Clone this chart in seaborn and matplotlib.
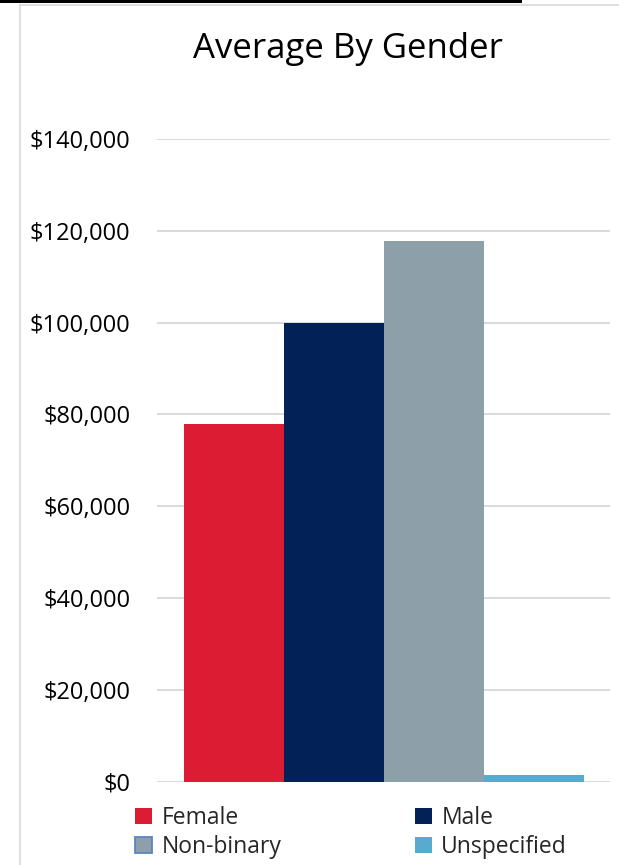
import matplotlib
matplotlib.use("Agg")
import matplotlib.pyplot as plt
from matplotlib.patches import Patch, Rectangle
from matplotlib.lines import Line2D
from matplotlib.ticker import FuncFormatter
import seaborn as sns
import pandas as pd

# Average salary per gender
genders = ["Female", "Male", "Non-binary", "Unspecified"]
averages = [77900, 99800, 117700, 1500]
colors = ["#DC1C32", "#012157", "#8DA0A9", "#58ABCE"]
y_ticks = [0, 20000, 40000, 60000, 80000, 100000, 120000, 140000]
title = "Average By Gender"

sns.set_theme(style="white")
plt.rcParams["font.family"] = ["Open Sans", "DejaVu Sans"]

W, H = 619, 865
fig = plt.figure(figsize=(W / 100, H / 100), dpi=100)

def fx(px):
    return px / W

def fy(py):
    return 1 - py / H

ax = fig.add_axes([fx(157), fy(781.5), fx(610) - fx(157), fy(139) - fy(781.5)])

df = pd.DataFrame({"group": ["all"] * len(genders), "gender": genders, "avg": averages})
sns.barplot(data=df, x="group", y="avg", hue="gender", hue_order=genders,
            palette=colors, saturation=1, width=0.8, legend=False, ax=ax,
            errorbar=None, linewidth=0)

ax.set_xlim(-0.453, 0.453)
ax.set_ylim(0, 140000)
ax.set_yticks(y_ticks)
ax.yaxis.set_major_formatter(FuncFormatter(lambda v, p: f"${v:,.0f}"))
ax.tick_params(axis="y", length=0, pad=19, labelsize=17, colors="#000000")
ax.set_xticks([])
ax.set_xlabel("")
ax.set_ylabel("")
ax.grid(axis="y", color="#d9d9d9", linewidth=1.4)
ax.set_axisbelow(True)
for s in ax.spines.values():
    s.set_visible(False)

fig.text(fx(348), fy(58), title, ha="center", va="baseline", fontsize=25, color="#000000")

# Legend in two columns
handles = [Patch(facecolor=c, edgecolor=c, linewidth=0) for c in colors]
handles[2] = Patch(facecolor=colors[2], edgecolor="#5A86C0", linewidth=1.3)
leg_kw = dict(frameon=False, fontsize=16.5, handlelength=0.75, handleheight=0.7,
              handletextpad=0.4, labelspacing=0.2, borderpad=0, borderaxespad=0,
              loc="upper left")
leg1 = fig.legend([handles[0], handles[2]], [genders[0], genders[2]],
                  bbox_to_anchor=(fx(135), fy(806)), **leg_kw)
leg2 = fig.legend([handles[1], handles[3]], [genders[1], genders[3]],
                  bbox_to_anchor=(fx(415), fy(806)), **leg_kw)

# Frame lines around the chart area
fig.add_artist(Rectangle((0, fy(3)), fx(522), 3 / H, transform=fig.transFigure,
                         facecolor="#000000", edgecolor="none"))
fig.add_artist(Line2D([fx(19.5), fx(19.5)], [fy(4.5), 0], transform=fig.transFigure,
                      color="#d9d9d9", linewidth=1.2))
fig.add_artist(Line2D([fx(19.5), 1], [fy(4.5), fy(4.5)], transform=fig.transFigure,
                      color="#d9d9d9", linewidth=1.2))

fig.savefig("out.png", dpi=100)
